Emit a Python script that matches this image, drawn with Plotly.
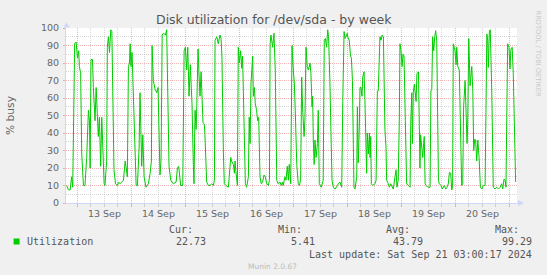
import pandas as pd
import plotly.graph_objects as go

# ---------------- data ----------------
START = pd.Timestamp("2024-09-13 00:00")
# hours after 13 Sep 00:00 and disk utilisation (% busy)
hours = [-4.76, -3.99, -3.23, -2.56, -2.08, -1.22, -0.56, 0.02, 0.59, 0.88, 1.45, 1.93, 2.69, 3.36,
         4.13, 4.89, 5.37, 5.66, 6.04, 6.71, 7.09, 7.85, 8.33, 8.91, 9.29, 9.77, 10.34, 10.82, 11.29,
         11.87, 12.25, 13.01, 13.30, 13.78, 14.26, 14.83, 15.31, 15.69, 16.26, 16.93, 17.79, 18.27,
         18.94, 19.70, 20.47, 21.23, 21.61, 22.19, 22.67, 23.14, 23.43, 23.81, 24.29, 24.86, 25.63,
         26.11, 26.68, 27.44, 27.83, 28.30, 28.59, 29.07, 29.64, 30.50, 31.55, 32.32, 32.89, 33.18,
         33.75, 34.51, 35.28, 35.85, 36.43, 36.71, 37.19, 37.67, 38.24, 39.10, 39.68, 40.15, 40.73,
         41.49, 42.64, 43.88, 44.45, 45.03, 45.60, 45.89, 46.84, 47.42, 47.99, 48.56, 49.04, 49.61,
         50.19, 50.95, 51.53, 51.81, 52.29, 52.77, 53.05, 53.63, 54.01, 54.49, 54.97, 55.44, 55.82,
         56.40, 56.68, 57.45, 58.21, 58.98, 59.65, 60.41, 60.89, 61.18, 61.94, 62.61, 63.37, 63.85,
         64.23, 64.90, 65.29, 66.05, 67.10, 67.48, 68.15, 68.53, 69.30, 69.78, 70.06, 70.44, 71.11,
         71.50, 71.97, 72.55, 73.03, 73.41, 74.08, 74.65, 75.22, 75.99, 76.37, 76.75, 77.14, 77.61,
         77.90, 78.19, 78.67, 79.05, 79.62, 80.10, 80.58, 81.15, 81.72, 82.30, 82.96, 83.54, 84.11,
         84.87, 85.35, 85.64, 86.02, 86.79, 87.36, 87.94, 88.60, 89.18, 90.04, 90.61, 91.09, 91.47,
         92.23, 92.71, 93.28, 93.76, 94.14, 94.81, 95.39, 95.96, 96.44, 96.82, 97.49, 98.16, 98.64,
         99.21, 99.69, 100.07, 100.74, 101.12, 101.60, 102.17, 102.65, 103.41, 103.80, 104.27,
         104.56, 104.85, 105.23, 105.61, 106.09, 106.67, 107.05, 107.52, 108.38, 109.24, 109.72,
         110.20, 110.77, 111.25, 111.63, 112.21, 112.68, 113.16, 113.73, 114.59, 115.55, 115.93,
         116.70, 117.46, 117.94, 118.51, 118.99, 119.37, 119.95, 120.13, 120.81, 121.38, 121.76,
         122.24, 122.62, 122.91, 123.38, 124.15, 124.44, 124.82, 125.30, 125.58, 126.06, 126.49,
         126.82, 127.40, 127.78, 128.26, 128.54, 128.83, 129.31, 129.79, 130.07, 130.36, 130.65,
         131.22, 132.27, 132.75, 133.33, 133.71, 134.19, 134.47, 134.95, 135.43, 136.00, 136.29,
         136.67, 137.15, 137.44, 138.20, 138.68, 139.25, 139.82, 140.40, 141.16, 141.64, 142.02,
         142.59, 143.07, 143.36, 143.84, 144.31, 144.70, 145.17, 145.75, 146.32, 147.09, 147.85,
         148.14, 148.61, 148.90, 149.28, 149.76, 150.05, 150.53, 150.91, 151.58, 151.96, 152.24,
         152.53, 153.01, 153.49, 153.87, 154.16, 154.54, 154.92, 155.97, 156.74, 157.12, 157.50,
         157.89, 158.36, 158.84, 159.22, 159.70, 159.99, 160.46, 160.85, 161.61, 162.18, 162.76,
         163.04, 163.71, 164.28, 164.86, 165.34, 165.91, 166.39, 166.77, 167.06, 167.82, 168.30,
         168.59, 169.06, 169.73, 170.21, 170.79, 171.26, 171.65, 172.31, 172.69, 173.17, 173.46,
         173.94, 174.51, 174.99, 175.28, 175.75, 176.13, 176.61, 176.99, 177.47, 177.95, 178.53,
         179.10, 179.67, 180.44, 181.20, 181.97, 182.35, 182.64, 183.11, 183.50, 184.16, 184.83,
         185.60, 186.36, 187.13, 187.89, 188.56, 189.04, 189.61, 190.09, 190.47, 191.23, 191.81,
         192.28, 192.67, 193.24, 193.72, 194.20, 194.77]
util = [10, 7.5, 7.5, 15, 9, 91, 92, 83, 87, 78, 74, 28, 10, 10,
        26, 53, 47, 20, 82, 82, 66, 47, 66, 44, 38, 49, 21, 49, 25,
        11, 10, 24, 89, 95, 86, 99, 98, 70, 19, 11, 10, 12,
        11, 12, 13, 24, 19, 15, 78, 80, 91, 78, 86, 60, 23,
        10, 10, 32, 63, 24, 21, 39, 15, 9, 11, 17, 24, 90,
        70, 65, 63, 66, 30, 16, 25, 96, 97, 96, 99, 70, 21,
        13, 11, 12, 20, 21, 15, 10, 10, 87, 89, 76, 89, 61,
        79, 56, 22, 11, 53, 42, 55, 88, 75, 61, 75, 49, 46,
        45, 39, 12, 10, 10, 11, 10, 13, 93, 95, 91, 96, 94,
        84, 28, 11, 10, 9, 15, 26, 24, 22, 17, 24, 18, 10,
        89, 80, 87, 77, 84, 47, 11, 9, 15, 49, 34, 68, 83,
        84, 61, 66, 57, 53, 47, 49, 15, 11, 12, 16, 15, 11,
        10, 13, 91, 96, 89, 97, 76, 13, 11, 12, 10, 12, 10,
        15, 13, 21, 13, 22, 11, 90, 76, 68, 53, 22, 11, 10,
        13, 72, 55, 38, 47, 89, 78, 76, 80, 74, 55,
        61, 36, 22, 36, 26, 34, 53, 11, 9, 13, 93,
        94, 89, 99, 95, 70, 32, 13, 9, 8, 10, 11,
        12, 9, 58, 98, 94, 95, 97, 95, 93, 84, 83,
        70, 30, 9, 8, 15, 55, 23, 44, 66, 66, 61,
        72, 75, 59, 30, 17, 40, 28, 40, 26, 38, 11,
        10, 11, 13, 64, 64, 93, 95, 93, 96, 95, 66,
        42, 32, 13, 11, 9, 11, 9, 8, 15, 19, 9,
        13, 47, 91, 87, 78, 85, 84, 47, 11, 10, 9,
        45, 63, 34, 63, 68, 62, 58, 74, 75, 45, 20,
        39, 30, 26, 34, 38, 11, 10, 9, 9, 64, 65,
        95, 87, 95, 98.5, 93, 66, 13, 11, 10, 8, 9,
        10, 8, 9, 11, 17.5, 17, 7.5, 9, 91, 87, 79,
        89, 78, 76, 45, 10, 11, 55, 70, 45, 34, 45,
        94, 67, 77.5, 78, 64, 30, 36.5, 36, 24, 36, 26,
        9, 8, 10, 10, 96.6, 93, 77.5, 98.5, 99, 64, 9,
        8, 9, 8, 9, 11, 8, 13.7, 13, 9, 91, 89,
        76.6, 88, 89, 74, 43, 12]

day_labels = ["13 Sep", "14 Sep", "15 Sep", "16 Sep", "17 Sep", "18 Sep", "19 Sep", "20 Sep"]
series_name = "Utilization"
stat_names = ["Cur:", "Min:", "Avg:", "Max:"]
stat_values = ["22.73", "5.41", "43.79", "99.29"]
title_text = "Disk utilization for /dev/sda - by week"
y_title = "% busy"
last_update = "Last update: Sat Sep 21 03:00:17 2024"
footer = "Munin 2.0.67"
watermark = "RRDTOOL / TOBI OETIKER"

# ---------------- layout helpers ----------------
W, H = 547, 275
L, R, T, B = 66, 30, 28, 72
PW, PH = W - L - R, H - T - B


def px(x):
    return (x - L) / PW


def py(y):
    return (H - B - y) / PH


times = [START + pd.Timedelta(hours=h) for h in hours]
x_start = START - pd.Timedelta(hours=5.067)
x_end = x_start + pd.Timedelta(hours=PW / 2.25)
label_pos = [pd.to_datetime(d + " 2024", format="%d %b %Y") + pd.Timedelta(hours=12) for d in day_labels]

GREEN = "#00CC00"
MAJOR = "rgba(222,79,79,0.42)"
MINOR = "rgba(150,150,150,0.38)"
AXIS = "#CFD6F8"
FONT_C = "#666666"
SANS = "DejaVu Sans"
MONO = "DejaVu Sans Mono"

fig = go.Figure()
fig.add_trace(go.Scatter(x=times, y=util, mode="lines", line=dict(color=GREEN, width=1),
                         name=series_name, showlegend=False, hoverinfo="skip"))
fig.add_trace(go.Scatter(x=[], y=[], xaxis="x2", showlegend=False, hoverinfo="skip"))

fig.update_layout(
    width=W, height=H,
    margin=dict(l=L, r=R, t=T, b=B, pad=0),
    paper_bgcolor="#F0F0F0", plot_bgcolor="#FFFFFF",
    showlegend=False,
    xaxis=dict(
        type="date", range=[x_start, x_end], tickmode="linear", tick0=START, dtick=86400000,
        showticklabels=False, ticks="outside", ticklen=3, tickcolor=MAJOR, tickwidth=1,
        showgrid=True, gridcolor=MAJOR, griddash="1px,1px", gridwidth=1,
        minor=dict(tick0=START, dtick=6 * 3600000, showgrid=True, gridcolor=MINOR,
                   griddash="1px,1px", gridwidth=1, ticks="outside", ticklen=3, tickcolor=MINOR),
        showline=True, linecolor=AXIS, linewidth=1, zeroline=False, fixedrange=True,
    ),
    xaxis2=dict(
        type="date", range=[x_start, x_end], overlaying="x", anchor="y", side="bottom",
        tickmode="array", tickvals=label_pos, ticktext=day_labels, ticks="",
        tickfont=dict(family=SANS, size=9.5, color=FONT_C), ticklabelstandoff=3,
        showgrid=False, showline=False, zeroline=False,
    ),
    yaxis=dict(
        range=[0, 100], tickmode="linear", tick0=0, dtick=10,
        ticks="outside", ticklen=2, tickcolor=MAJOR,
        tickfont=dict(family=SANS, size=9.5, color=FONT_C), ticklabelstandoff=2,
        showgrid=True, gridcolor=MAJOR, griddash="1px,1px", gridwidth=1,
        minor=dict(dtick=5, showgrid=True, gridcolor=MINOR, griddash="1px,1px", gridwidth=1),
        showline=True, linecolor=AXIS, linewidth=1, zeroline=False, fixedrange=True,
    ),
)

ann = []
ann.append(dict(text=title_text, x=px(273.5), xref="paper", y=py(20), yref="paper", xanchor="center",
                yanchor="middle", showarrow=False, font=dict(family=SANS, size=12.5, color="#555555")))
ann.append(dict(text=y_title, x=px(10.5), y=py(115.5), xref="paper", yref="paper", textangle=-90,
                xanchor="center", yanchor="middle", showarrow=False,
                font=dict(family=SANS, size=10.7, color=FONT_C)))
ann.append(dict(text=watermark, x=px(538), y=py(53.5), xref="paper", yref="paper", textangle=90,
                xanchor="center", yanchor="middle", showarrow=False,
                font=dict(family=SANS, size=6.7, color="#C8C8C8")))
ann.append(dict(text=series_name, x=px(25), y=py(241.2), xref="paper", yref="paper",
                xanchor="left", yanchor="middle", showarrow=False,
                font=dict(family=MONO, size=10, color="#555555")))
name_right = [194, 302.8, 411, 519.9]
val_right = [206.5, 315.8, 423.9, 532.8]
for n, v, nr, vr in zip(stat_names, stat_values, name_right, val_right):
    ann.append(dict(text=n, x=px(nr + 1), y=py(229.7), xref="paper", yref="paper",
                    xanchor="right", yanchor="middle", showarrow=False,
                    font=dict(family=MONO, size=10, color="#555555")))
    ann.append(dict(text=v, x=px(vr + 1), y=py(241.2), xref="paper", yref="paper",
                    xanchor="right", yanchor="middle", showarrow=False,
                    font=dict(family=MONO, size=10, color="#555555")))
ann.append(dict(text=last_update, x=px(534), y=py(254.1), xref="paper", yref="paper",
                xanchor="right", yanchor="middle", showarrow=False,
                font=dict(family=MONO, size=10, color="#555555")))
ann.append(dict(text=footer, x=px(272.9), y=py(266.3), xref="paper", yref="paper",
                xanchor="center", yanchor="middle", showarrow=False,
                font=dict(family=SANS, size=7.5, color="#BBBBBB")))
fig.update_layout(annotations=ann)

shapes = [
    # legend colour box
    dict(type="rect", xref="paper", yref="paper", xsizemode="pixel", ysizemode="pixel",
         xanchor=px(16.6), yanchor=py(241.5), x0=-3, x1=3, y0=-3, y1=3,
         fillcolor=GREEN, line=dict(width=0)),
    # axis extension + arrows
    dict(type="line", xref="paper", yref="paper", x0=1, x1=px(519), y0=0, y1=0,
         line=dict(color=AXIS, width=1)),
    dict(type="path", xref="paper", yref="paper", xsizemode="pixel", ysizemode="pixel",
         xanchor=px(518), yanchor=0, path="M0,-3 L6,0 L0,3 Z",
         fillcolor=AXIS, line=dict(width=0)),
    dict(type="path", xref="paper", yref="paper", xsizemode="pixel", ysizemode="pixel",
         xanchor=px(66.5), yanchor=py(27.5), path="M-3,0 L3,0 L0,5 Z",
         fillcolor=AXIS, line=dict(width=0)),
]
fig.update_layout(shapes=shapes)

fig.write_html("out.html", include_plotlyjs=True, config={"displayModeBar": False})
